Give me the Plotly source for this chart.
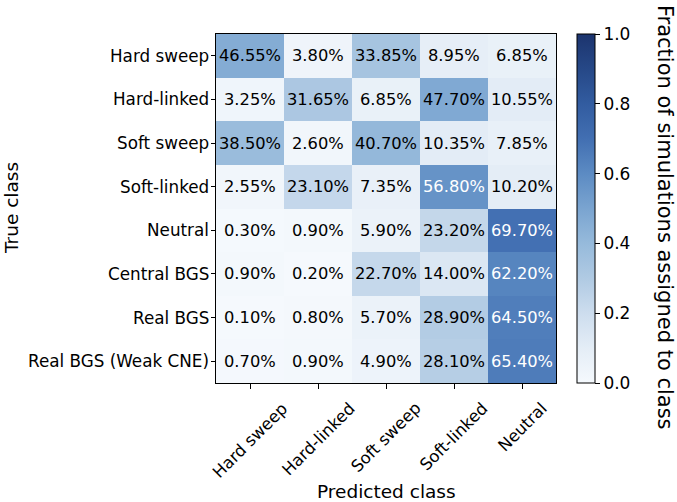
import plotly.graph_objects as go

true_classes = ["Hard sweep", "Hard-linked", "Soft sweep", "Soft-linked", "Neutral",
                "Central BGS", "Real BGS", "Real BGS (Weak CNE)"]
pred_classes = ["Hard sweep", "Hard-linked", "Soft sweep", "Soft-linked", "Neutral"]

row_hard_sweep = [0.4655, 0.0380, 0.3385, 0.0895, 0.0685]
row_hard_linked = [0.0325, 0.3165, 0.0685, 0.4770, 0.1055]
row_soft_sweep = [0.3850, 0.0260, 0.4070, 0.1035, 0.0785]
row_soft_linked = [0.0255, 0.2310, 0.0735, 0.5680, 0.1020]
row_neutral = [0.0030, 0.0090, 0.0590, 0.2320, 0.6970]
row_central_bgs = [0.0090, 0.0020, 0.2270, 0.1400, 0.6220]
row_real_bgs = [0.0010, 0.0080, 0.0570, 0.2890, 0.6450]
row_real_bgs_weak = [0.0070, 0.0090, 0.0490, 0.2810, 0.6540]

z = [row_hard_sweep, row_hard_linked, row_soft_sweep, row_soft_linked,
     row_neutral, row_central_bgs, row_real_bgs, row_real_bgs_weak]

colorbar_ticks = [0, 0.2, 0.4, 0.6, 0.8, 1.0]

colorscale = [
    [0.0, "rgb(245,249,253)"],
    [0.1, "rgb(228,237,246)"],
    [0.2, "rgb(205,221,238)"],
    [0.3, "rgb(176,202,227)"],
    [0.4, "rgb(150,186,219)"],
    [0.5, "rgb(122,164,208)"],
    [0.6, "rgb(92,139,195)"],
    [0.7, "rgb(66,111,178)"],
    [0.8, "rgb(50,92,160)"],
    [0.9, "rgb(38,72,135)"],
    [1.0, "rgb(28,52,110)"],
]

FONT = "DejaVu Sans"
W, H = 677, 502
X0, X1, Y0, Y1 = 216, 556, 34, 383   # plot area in pixels
L, R, T, B = X0, W - X1, Y0, H - Y1
pw, ph = X1 - X0, Y1 - Y0


def px_x(px):
    return (px - X0) / pw


def px_y(py):
    return (Y1 - py) / ph


fig = go.Figure()
fig.add_trace(go.Heatmap(
    z=z, x=pred_classes, y=true_classes, zmin=0, zmax=1,
    colorscale=colorscale, xgap=0, ygap=0, hoverinfo="skip",
    colorbar=dict(
        x=px_x(577), xanchor="left", y=0.5, yanchor="middle", len=1, lenmode="fraction",
        thickness=18, outlinecolor="black", outlinewidth=1,
        ticks="outside", ticklen=5, tickcolor="black",
        tickvals=colorbar_ticks, ticktext=[f"{t:.1f}" for t in colorbar_ticks],
        tickfont=dict(family=FONT, size=17, color="black"), xpad=0, ypad=0,
    ),
))

annotations = []
for i, tc in enumerate(true_classes):
    for j, pc in enumerate(pred_classes):
        v = z[i][j]
        annotations.append(dict(
            x=pc, y=tc, xref="x", yref="y", text=f"{v*100:.2f}%", showarrow=False,
            font=dict(family=FONT, size=16.3, color="white" if v > 0.5 else "black"),
        ))

# y tick labels, right-aligned just left of the ticks
for tc in true_classes:
    annotations.append(dict(
        x=px_x(211), y=tc, xref="paper", yref="y", text=tc, showarrow=False,
        xanchor="right", yanchor="middle",
        font=dict(family=FONT, size=16.8, color="black"),
    ))

# rotated x tick labels, centred under the ticks (matplotlib style)
for pc in pred_classes:
    annotations.append(dict(
        x=pc, y=px_y(396), xref="x", yref="paper", text=pc, showarrow=False,
        textangle=-45, xanchor="center", yanchor="top",
        font=dict(family=FONT, size=16.5, color="black"),
    ))

annotations.append(dict(
    x=px_x(386), y=px_y(491), xref="paper", yref="paper", text="Predicted class",
    showarrow=False, xanchor="center", yanchor="middle",
    font=dict(family=FONT, size=18.5, color="black"),
))
annotations.append(dict(
    x=px_x(11), y=px_y(208), xref="paper", yref="paper", text="True class",
    showarrow=False, xanchor="center", yanchor="middle", textangle=-90,
    font=dict(family=FONT, size=18.5, color="black"),
))
annotations.append(dict(
    x=px_x(665), y=px_y(217), xref="paper", yref="paper",
    xanchor="center", yanchor="middle",
    text="Fraction of simulations assigned to class",
    showarrow=False, textangle=90, font=dict(family=FONT, size=21, color="black"),
))

fig.update_layout(
    width=W, height=H,
    margin=dict(l=L, r=R, t=T, b=B, pad=0, autoexpand=False),
    paper_bgcolor="white", plot_bgcolor="white",
    font=dict(family=FONT, color="black"),
    annotations=annotations,
    xaxis=dict(
        showticklabels=False, range=[-0.5, len(pred_classes) - 0.5], automargin=False,
        domain=[0, 1],
        ticks="outside", ticklen=5, tickcolor="black",
        showline=True, linecolor="black", linewidth=1.2, mirror=True, showgrid=False,
    ),
    yaxis=dict(
        showticklabels=False, range=[len(true_classes) - 0.5, -0.5], automargin=False,
        domain=[0, 1],
        ticks="outside", ticklen=4, tickcolor="black",
        showline=True, linecolor="black", linewidth=1.2, mirror=True, showgrid=False,
    ),
)

fig.write_html("out.html", config={"displayModeBar": False},
               post_script="document.body.style.margin='0px';")
